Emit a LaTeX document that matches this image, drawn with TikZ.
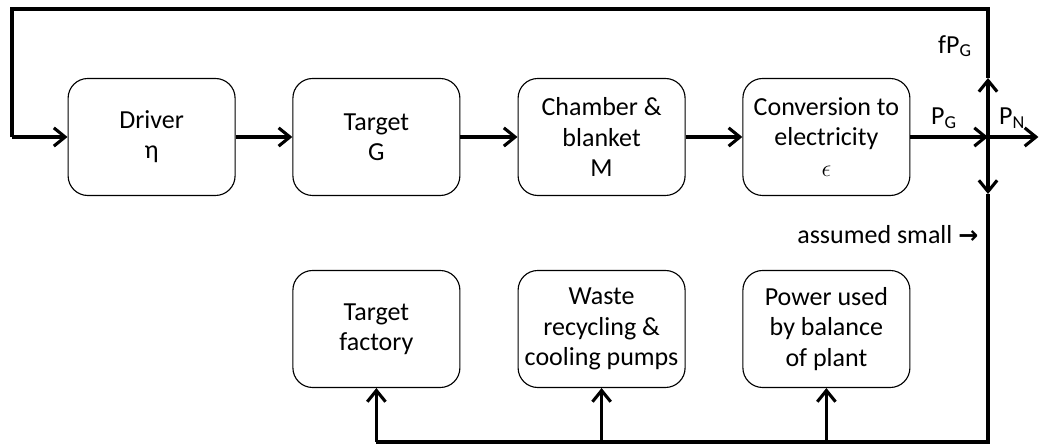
\documentclass[tikz,border=0pt]{standalone}
\usepackage{fontspec}
\setmainfont{Carlito}
\newfontfamily\symfont{DejaVu Sans}
\usetikzlibrary{arrows.meta}

\begin{document}
\begin{tikzpicture}[
    block/.style={rectangle, rounded corners=14pt, draw=black, line width=0.8pt,
        fill=white, minimum width=4.175cm, minimum height=2.925cm, align=center,
        inner sep=1pt, font=\fontsize{18.5}{21.5}\selectfont},
    flow/.style={line width=2.2pt, -{Straight Barb[length=8pt, width=13pt, line width=2.2pt]}},
    wire/.style={line width=2.2pt, line join=miter},
    lbl/.style={font=\fontsize{18.5}{21.5}\selectfont, inner sep=1pt}
]
    \useasboundingbox (0,0) rectangle (25.975,11.15);

    \node[block] (drv)  at (3.79,7.725)  {Driver\\η};
    \node[block] (tgt)  at (9.41,7.725)  {Target\\G};
    \node[block] (chb)  at (15.04,7.725) {Chamber \&\\blanket\\M};
    \node[block] (conv) at (20.66,7.725) {Conversion to\\electricity\\$\epsilon$};

    \node[block] (tf)    at (9.41,2.925)  {Target\\factory};
    \node[block] (waste) at (15.04,2.925) {Waste\\recycling \&\\cooling pumps};
    \node[block] (bop)   at (20.66,2.925) {Power used\\by balance\\of plant};

    \coordinate (j)    at (24.7,7.725);
    \coordinate (up)   at (24.7,9.2);
    \coordinate (down) at (24.7,6.3);
    \coordinate (out)  at (25.96,7.725);
    \coordinate (base) at (24.7,0.1);

    \draw[flow] (drv) -- (tgt);
    \draw[flow] (tgt) -- (chb);
    \draw[flow] (chb) -- (conv);
    \draw[flow] (conv) -- (j);
    \draw[flow] (j) -- (out);
    \draw[flow] (j) -- (up);
    \draw[flow] (j) -- (down);
    \draw[wire] (up) -- (24.7,10.925) -- (0.3,10.925) -- (0.3,7.725);
    \draw[flow] (0.3,7.725) -- (drv);
    \draw[wire] (down) -- (base) -- (tf.south |- base);
    \draw[flow] (tf.south |- base) -- (tf);
    \draw[flow] (waste.south |- base) -- (waste);
    \draw[flow] (bop.south |- base) -- (bop);

    \node[lbl] at (23.875,10.0) {fP\textsubscript{G}};
    \node[lbl] at (23.6,8.2) {P\textsubscript{G}};
    \node[lbl] at (25.3,8.2) {P\textsubscript{N}};
    \node[lbl, anchor=east] at (24.5,5.28) {assumed small {\symfont\bfseries\fontsize{17}{18}\selectfont →}};
\end{tikzpicture}
\end{document}
